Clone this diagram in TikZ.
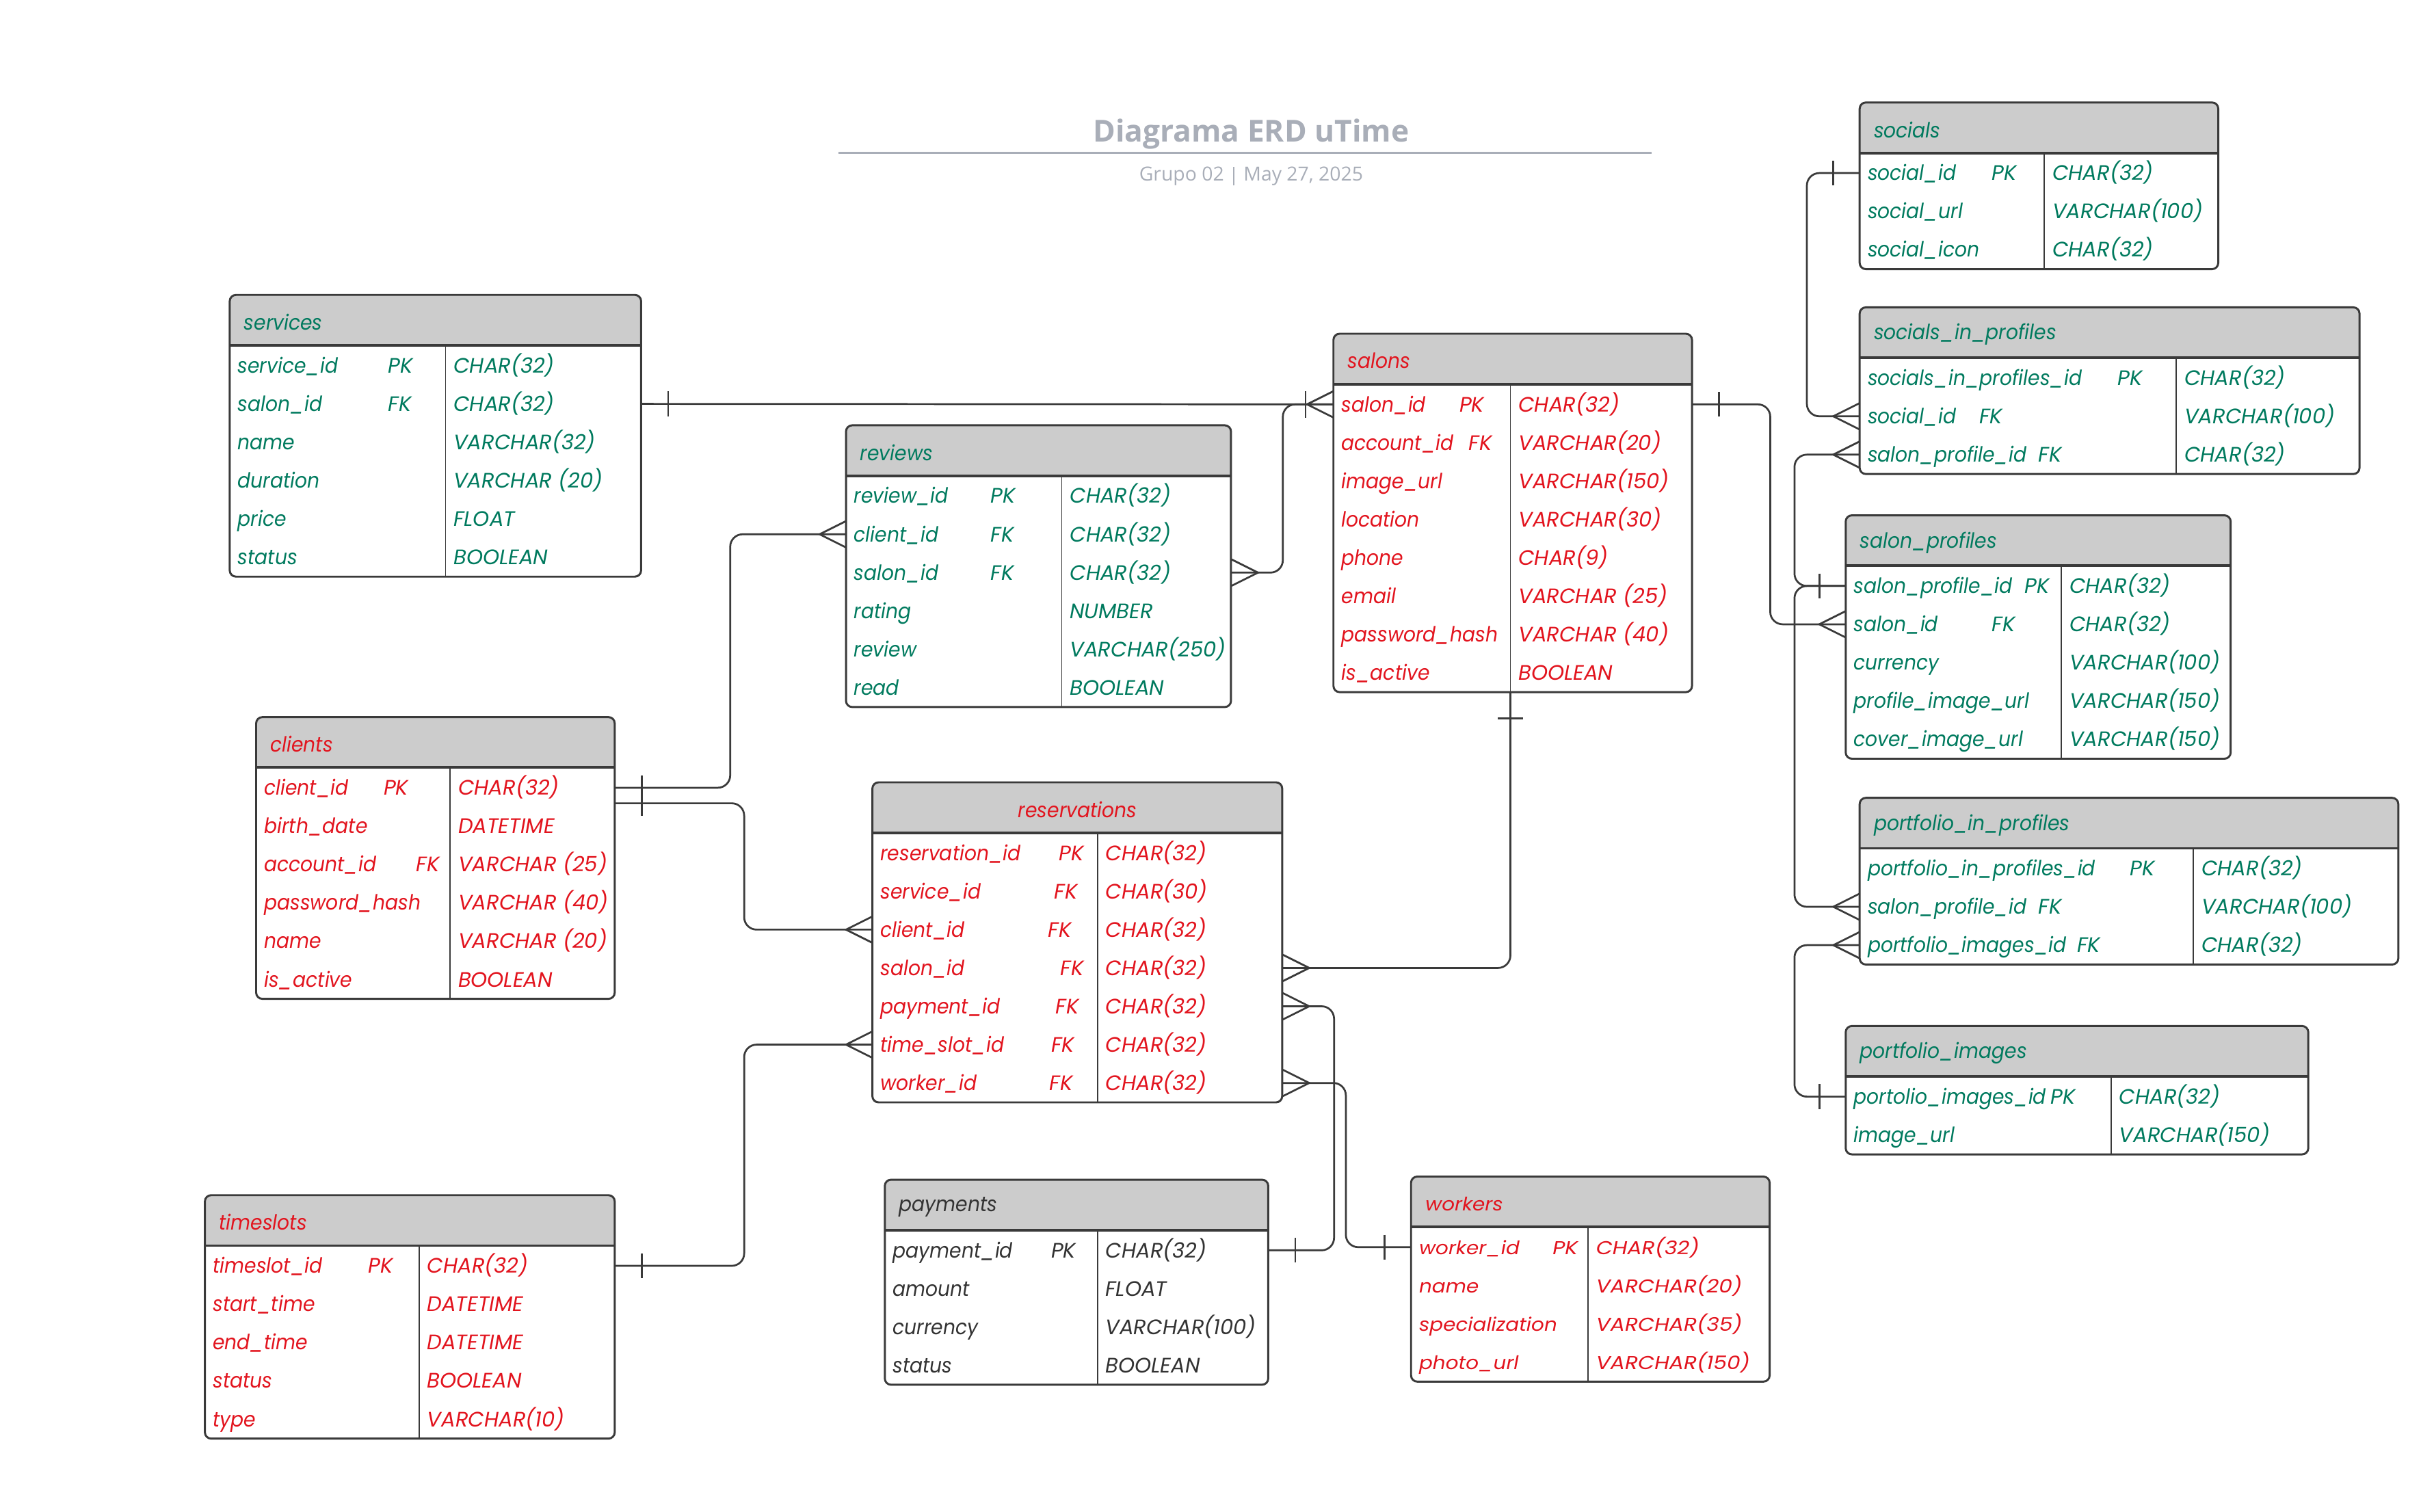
\documentclass[tikz,border=0pt]{standalone}
\usepackage{fontspec}
\setmainfont{Poppins}
\newfontfamily\namefam{Poppins}[FakeStretch=0.92]
\newfontfamily\wkfam{Poppins}[FakeStretch=1.15]
\newfontfamily\wknamefam{Poppins}[FakeStretch=1.08]
\newfontfamily\ttlfont{Open Sans}
\usetikzlibrary{calc}

\definecolor{erdgreen}{RGB}{0,122,94}
\definecolor{erdred}{RGB}{226,20,30}
\definecolor{erddark}{RGB}{51,51,51}
\definecolor{headgray}{RGB}{204,204,204}
\definecolor{edgegray}{RGB}{58,58,58}
\definecolor{titlegray}{RGB}{169,174,184}

\newcommand{\erdname}{\namefam\fontsize{13.5}{16}\selectfont\itshape}
\newcommand{\erdtype}{\fontsize{13.5}{16}\selectfont\itshape}

\tikzset{
  link/.style={draw=edgegray, line width=1.2pt, rounded corners=8pt},
  tip/.style={draw=edgegray, line width=1.2pt},
  tablerule/.style={draw=edgegray, line width=1.3pt},
  namecell/.style={inner sep=0pt, anchor=mid west, font=\erdname},
  typecell/.style={inner sep=0pt, anchor=mid west, font=\erdtype},
  headtext/.style={inner sep=0pt, anchor=west, font=\erdname},
  rowbox/.style={inner sep=0pt, minimum height=24pt, anchor=west},
  crow/.pic={\draw[tip] (0,-8.5) -- (-17,0) -- (0,8.5);},
  onebar/.pic={\draw[tip] (-17,-8) -- (-17,8);},
  manybar/.pic={\draw[tip] (0,-8.5) -- (-17,0) -- (0,8.5);
                \draw[tip] (-18,-8.5) -- (-18,8.5);}
}

% #1 id, #2 x, #3 y, #4 width, #5 split, #6 colour, #7 title, #8 rows
\newcommand{\erdtable}[8]{%
  \begin{scope}
    \clip[rounded corners=4pt] (#2,#3) rectangle (#2+#4,#3+38);
    \fill[headgray] (#2,#3) rectangle (#2+#4,#3+32.5);
  \end{scope}
  \pgfmathsetmacro{\tw}{#4-18}
  \node[headtext, text=#6, text width=\tw pt] (#1) at (#2+9,#3+17.5) {#7};
  \foreach \fname/\kx/\fkey/\ftype [count=\i] in {#8} {
    \pgfmathsetmacro{\ry}{#3+45.5+(\i-1)*24.7}
    \pgfmathsetmacro{\ty}{\ry+2}
    \node[rowbox, minimum width=#4pt] (#1-\i) at (#2,\ry) {};
    \node[namecell, text=#6] (#1-\i-n) at (#2+5,\ty) {\fname};
    \ifnum\kx>0
      \node[typecell, text=#6] (#1-\i-k) at (#2+\kx,\ty) {\fkey};
    \fi
    \node[typecell, text=#6] (#1-\i-t) at (#2+#5+5,\ty) {\ftype};
    \xdef\erdrows{\i}
  }
  \pgfmathsetmacro{\by}{#3+33.3+\erdrows*24.7}
  \draw[tablerule, line width=1.7pt] (#2,#3+32.5) -- (#2+#4,#3+32.5);
  \draw[draw=edgegray, line width=0.8pt] (#2+#5,#3+32.5) -- (#2+#5,\by);
  \draw[tablerule, rounded corners=4pt] (#2,#3) rectangle (#2+#4,\by);
  \coordinate (#1-foot) at (#2+#5,\by);
}

\begin{document}
\begin{tikzpicture}[x=1pt, y=-1pt]
  \useasboundingbox (0,0) rectangle (1568,974.1);

  % title block
  \node[font=\ttlfont\bfseries\fontsize{19.5}{23}\selectfont, text=titlegray] (title) at (806,86.5) {Diagrama ERD uTime};
  \draw[titlegray, line width=1.4pt] (540,98.5) -- (1064,98.5);
  \node[font=\ttlfont\fontsize{12.5}{15}\selectfont, text=titlegray] (subtitle) at (806,113.5)
    {Grupo 02\hspace{6pt}\rule[-3pt]{0.6pt}{12pt}\hspace{6pt}May 27, 2025};

  % tables
  \erdtable{srv}{148}{190}{265}{139}{erdgreen}{services}{
    service\_id/102/PK/CHAR(32), salon\_id/102/FK/CHAR(32), name/0//VARCHAR(32),
    duration/0//VARCHAR (20), price/0//FLOAT, status/0//BOOLEAN}
  \erdtable{rev}{545}{274}{248}{139}{erdgreen}{reviews}{
    review\_id/93/PK/CHAR(32), client\_id/93/FK/CHAR(32), salon\_id/93/FK/CHAR(32),
    rating/0//NUMBER, review/0//VARCHAR(250), read/0//BOOLEAN}
  \erdtable{sal}{859}{215}{231}{114}{erdred}{salons}{
    salon\_id/81/PK/CHAR(32), account\_id/87/FK/VARCHAR(20), image\_url/0//VARCHAR(150),
    location/0//VARCHAR(30), phone/0//CHAR(9), email/0//VARCHAR (25),
    password\_hash/0//VARCHAR (40), is\_active/0//BOOLEAN}
  \erdtable{cli}{165}{462}{231}{125}{erdred}{clients}{
    client\_id/82/PK/CHAR(32), birth\_date/0//DATETIME, account\_id/103/FK/VARCHAR (25),
    password\_hash/0//VARCHAR (40), name/0//VARCHAR (20), is\_active/0//BOOLEAN}
  \erdtable{rsv}{562}{504}{264}{145}{erdred}{\hbox to \hsize{\hfil reservations\hfil}}{
    reservation\_id/120/PK/CHAR(32), service\_id/117/FK/CHAR(30), client\_id/113/FK/CHAR(32),
    salon\_id/121/FK/CHAR(32), payment\_id/118/FK/CHAR(32), time\_slot\_id/115/FK/CHAR(32),
    worker\_id/114/FK/CHAR(32)}
  \erdtable{ts}{132}{770}{264}{138}{erdred}{timeslots}{
    timeslot\_id/105/PK/CHAR(32), start\_time/0//DATETIME, end\_time/0//DATETIME,
    status/0//BOOLEAN, type/0//VARCHAR(10)}
  \erdtable{pay}{570}{760}{247}{137}{erddark}{payments}{
    payment\_id/107/PK/CHAR(32), amount/0//FLOAT, currency/0//VARCHAR(100), status/0//BOOLEAN}
  \begin{scope}
    \def\erdname{\wknamefam\fontsize{12}{14}\selectfont\itshape}
    \def\erdtype{\wkfam\fontsize{12}{14}\selectfont\itshape}
    \erdtable{wrk}{909}{758}{231}{114}{erdred}{workers}{
      worker\_id/91/PK/CHAR(32), name/0//VARCHAR(20), specialization/0//VARCHAR(35),
      photo\_url/0//VARCHAR(150)}
  \end{scope}
  \erdtable{soc}{1198}{66}{231}{119}{erdgreen}{socials}{
    social\_id/85/PK/CHAR(32), social\_url/0//VARCHAR(100), social\_icon/0//CHAR(32)}
  \erdtable{sip}{1198}{198}{322}{204}{erdgreen}{socials\_in\_profiles}{
    socials\_in\_profiles\_id/166/PK/CHAR(32), social\_id/77/FK/VARCHAR(100),
    salon\_profile\_id/115/FK/CHAR(32)}
  \erdtable{spr}{1189}{332}{248}{139}{erdgreen}{salon\_profiles}{
    salon\_profile\_id/115/PK/CHAR(32), salon\_id/94/FK/CHAR(32), currency/0//VARCHAR(100),
    profile\_image\_url/0//VARCHAR(150), cover\_image\_url/0//VARCHAR(150)}
  \erdtable{pip}{1198}{514}{347}{215}{erdgreen}{portfolio\_in\_profiles}{
    portfolio\_in\_profiles\_id/174/PK/CHAR(32), salon\_profile\_id/115/FK/VARCHAR(100),
    portfolio\_images\_id/140/FK/CHAR(32)}
  \erdtable{pim}{1189}{661}{298}{171}{erdgreen}{portfolio\_images}{
    portolio\_images\_id/132/PK/CHAR(32), image\_url/0//VARCHAR(150)}

  % relationships
  \draw[link] (srv-2.east) -- (sal-1.west);
  \pic[rotate=180] at (srv-2.east) {onebar};
  \pic at (sal-1.west) {manybar};
  \draw[link] (rev-3.east) -- ++(33,0) |- (sal-1.west);
  \pic[rotate=180] at (rev-3.east) {crow};

  \draw[link] (cli-1.east) -- ++(74,0) |- (rev-2.west);
  \pic[rotate=180] at (cli-1.east) {onebar};
  \pic at (rev-2.west) {crow};
  \draw[link] ([yshift=-10pt]cli-1.east) -- ++(83,0) |- (rsv-3.west);
  \pic[rotate=180] at ([yshift=-10pt]cli-1.east) {onebar};
  \pic at (rsv-3.west) {crow};

  \draw[link] (ts-1.east) -- ++(83,0) |- (rsv-6.west);
  \pic[rotate=180] at (ts-1.east) {onebar};
  \pic at (rsv-6.west) {crow};

  \draw[link] (sal-foot) |- (rsv-4.east);
  \pic[rotate=90] at (sal-foot) {onebar};
  \pic[rotate=180] at (rsv-4.east) {crow};

  \draw[link] (pay-1.east) -- ++(42,0) |- (rsv-5.east);
  \pic[rotate=180] at (pay-1.east) {onebar};
  \pic[rotate=180] at (rsv-5.east) {crow};

  \draw[link] (wrk-1.west) -- ++(-42,0) |- (rsv-7.east);
  \pic at (wrk-1.west) {onebar};
  \pic[rotate=180] at (rsv-7.east) {crow};

  \draw[link] (soc-1.west) -- ++(-34,0) |- (sip-2.west);
  \pic at (soc-1.west) {onebar};
  \pic at (sip-2.west) {crow};

  \draw[link] (sal-1.east) -- ++(50,0) |- (spr-2.west);
  \pic[rotate=180] at (sal-1.east) {onebar};
  \pic at (spr-2.west) {crow};

  \draw[link] (spr-1.west) -- ++(-33,0) |- (sip-3.west);
  \draw[link] (spr-1.west) -- ++(-33,0) |- (pip-2.west);
  \pic at (spr-1.west) {onebar};
  \pic at (sip-3.west) {crow};
  \pic at (pip-2.west) {crow};

  \draw[link] (pim-1.west) -- ++(-33,0) |- (pip-3.west);
  \pic at (pim-1.west) {onebar};
  \pic at (pip-3.west) {crow};
\end{tikzpicture}
\end{document}
